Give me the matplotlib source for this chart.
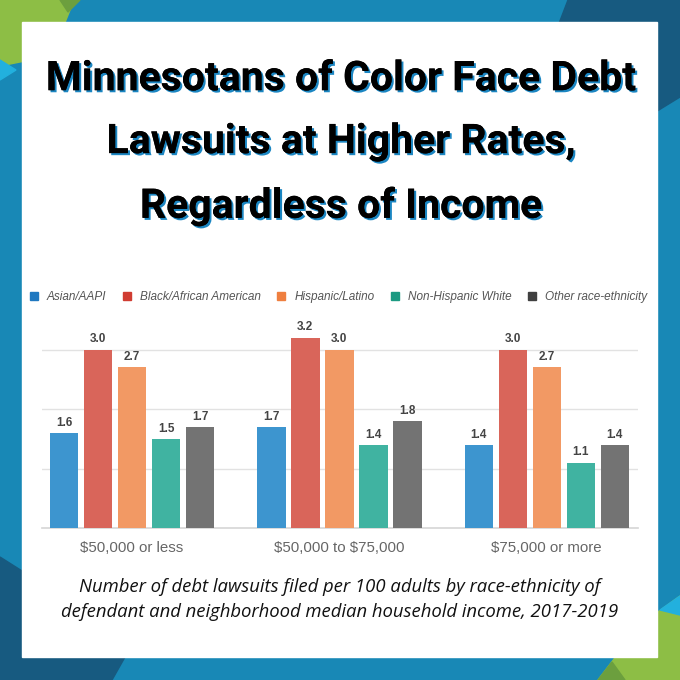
import matplotlib
matplotlib.use("Agg")
import matplotlib.pyplot as plt
import matplotlib.patheffects as pe
from matplotlib.patches import Polygon, Rectangle, Patch
import numpy as np

plt.rcParams["text.parse_math"] = False

# data
income_groups = ["$50,000 or less", "$50,000 to $75,000", "$75,000 or more"]
race_groups = ["Asian/AAPI", "Black/African American", "Hispanic/Latino",
               "Non-Hispanic White", "Other race-ethnicity"]
asian = [1.6, 1.7, 1.4]
black = [3.0, 3.2, 3.0]
hispanic = [2.7, 3.0, 2.7]
white = [1.5, 1.4, 1.1]
other = [1.7, 1.8, 1.4]
series = [asian, black, hispanic, white, other]

bar_colors = ["#3d95cf", "#d9655a", "#f29964", "#40b3a1", "#737373"]
legend_colors = ["#1f78c0", "#d03c32", "#ef7f3f", "#1c9a82", "#404040"]

title = "Minnesotans of Color Face Debt\nLawsuits at Higher Rates,\nRegardless of Income"
caption = ("Number of debt lawsuits filed per 100 adults by race-ethnicity of\n"
           "defendant and neighborhood median household income, 2017-2019")

W = 680
fig = plt.figure(figsize=(6.8, 6.8), dpi=100)

# background frame
bg = fig.add_axes([0, 0, 1, 1])
bg.set_xlim(0, W)
bg.set_ylim(W, 0)
bg.axis("off")
bg.add_patch(Rectangle((0, 0), W, W, color="#1888b6", zorder=0))
bg.add_patch(Polygon([(0, 0), (74, 0), (62, 30), (30, 60), (0, 66)], color="#8dbe45", zorder=1))
bg.add_patch(Polygon([(60, 0), (80, 0), (68, 12)], color="#6c9f3e", zorder=2))
bg.add_patch(Polygon([(0, 60), (16, 70), (0, 80)], color="#22b0de", zorder=2))
bg.add_patch(Polygon([(568, 0), (680, 0), (680, 97), (610, 140), (545, 60)], color="#175a80", zorder=1))
bg.add_patch(Polygon([(0, 557), (60, 595), (125, 657), (112, 680), (0, 680)], color="#175a80", zorder=1))
bg.add_patch(Polygon([(598, 680), (640, 625), (680, 596), (680, 680)], color="#8dbe45", zorder=1))
bg.add_patch(Polygon([(598, 680), (612, 662), (625, 680)], color="#6c9f3e", zorder=2))
bg.add_patch(Polygon([(660, 610), (680, 596), (680, 615)], color="#22b0de", zorder=2))
bg.add_patch(Rectangle((22, 22), 635, 635, color="white", zorder=3))

# title with blue drop shadow
shadow = [pe.withSimplePatchShadow(offset=(1.5, -1.5), shadow_rgbFace="#1b86c2", alpha=1.0), pe.Normal()]
fig.text(0.502, 1 - 143 / W, title, ha="center", va="center", fontsize=29.5,
         family="Roboto", fontweight="bold", color="black", linespacing=1.83,
         path_effects=shadow)

# chart
ax = fig.add_axes([42 / W, 1 - 528 / W, 596 / W, 202.3 / W])
x = np.arange(len(income_groups))
width = 0.137
step = 0.164
for i, (vals, col) in enumerate(zip(series, bar_colors)):
    bars = ax.bar(x + (i - 2) * step, vals, width, color=col, zorder=3)
    ax.bar_label(bars, fmt="%.1f", padding=3, fontsize=8.5, fontweight="bold",
                 color="#444444", family="Liberation Sans")

ax.set_xlim(-0.434, 2.44)
ax.set_ylim(0, 3.4)
ax.set_yticks([1, 2, 3])
ax.set_yticklabels([])
ax.grid(axis="y", color="#e2e2e2", lw=1, zorder=0)
ax.set_xticks(x)
ax.set_xticklabels(income_groups, fontsize=10.8, color="#666666", family="Liberation Sans")
ax.tick_params(length=0, pad=9)
for s in ["top", "left", "right"]:
    ax.spines[s].set_visible(False)
ax.spines["bottom"].set_color("#d5d5d5")
ax.spines["bottom"].set_linewidth(1.2)

handles = [Patch(color=c, label=r) for c, r in zip(legend_colors, race_groups)]
fig.legend(handles=handles, loc="center", bbox_to_anchor=(338.5 / W, 1 - 297 / W), ncol=5,
           frameon=False, handlelength=0.7, handleheight=0.7, handletextpad=0.75,
           columnspacing=1.4, prop={"family": "Liberation Sans", "style": "italic", "size": 8.5},
           labelcolor="#555555")

fig.text(0.5, 1 - 599.5 / W, caption, ha="center", va="center", fontsize=13.3,
         family="Open Sans", style="italic", color="#111111", linespacing=1.45)

fig.savefig("out.png", dpi=100)
